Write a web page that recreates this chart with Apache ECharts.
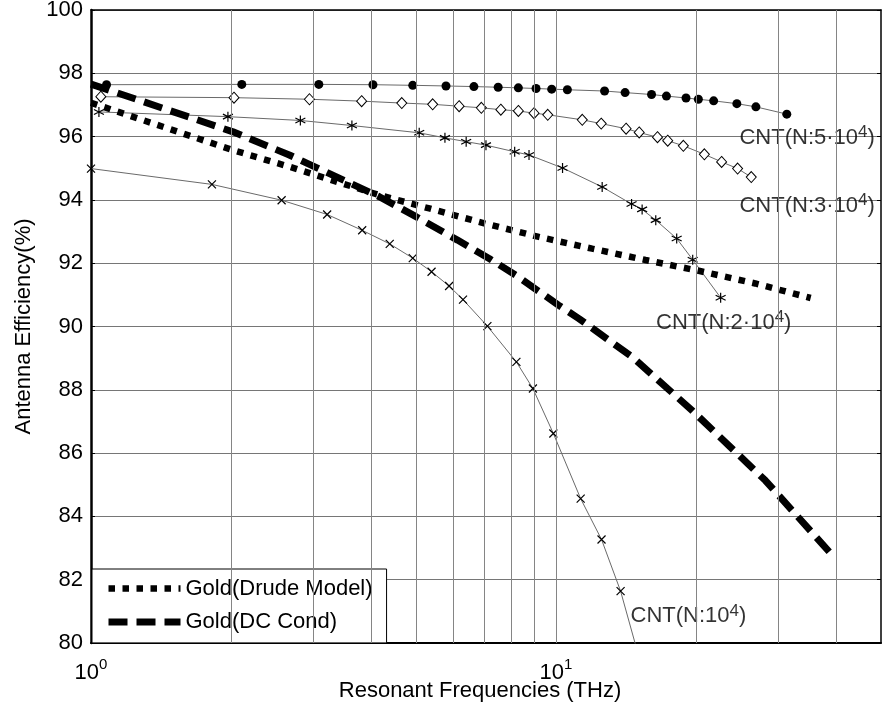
<!DOCTYPE html>
<html>
<head>
<meta charset="utf-8">
<script src="https://cdn.jsdelivr.net/npm/echarts@6/dist/echarts.min.js"></script>
<style>html,body{margin:0;padding:0;background:#fff}#c{width:883px;height:706px}</style>
</head>
<body>
<div id="c"></div>
<script>
// ---------------- data ----------------
// CNT(N:5·10^4)  filled circles
const cnt5F = [1.08, 2.11, 3.09, 4.04, 4.92, 5.80, 6.66, 7.51, 8.30, 9.06, 9.79, 10.58, 12.72, 14.08, 16.05, 17.28, 19.04, 20.24, 21.83, 24.49, 26.91, 31.36];
const cnt5V = [97.64, 97.65, 97.65, 97.64, 97.62, 97.60, 97.58, 97.56, 97.54, 97.52, 97.50, 97.48, 97.44, 97.39, 97.33, 97.28, 97.22, 97.18, 97.13, 97.04, 96.94, 96.71];
// CNT(N:3·10^4)  open diamonds
const cnt3F = [1.05, 2.03, 2.95, 3.82, 4.66, 5.43, 6.19, 6.91, 7.61, 8.30, 8.97, 9.60, 11.39, 12.51, 14.15, 15.10, 16.53, 17.39, 18.79, 20.85, 22.71, 24.58, 26.30];
const cnt3V = [97.26, 97.23, 97.18, 97.12, 97.06, 97.02, 96.96, 96.91, 96.85, 96.81, 96.74, 96.69, 96.53, 96.41, 96.25, 96.13, 95.98, 95.87, 95.71, 95.44, 95.20, 94.99, 94.72];
// CNT(N:2·10^4)  asterisks
const cnt2F = [1.04, 1.97, 2.82, 3.64, 5.08, 5.77, 6.41, 7.07, 8.15, 8.75, 10.33, 12.57, 14.54, 15.32, 16.39, 18.18, 19.68, 22.60];
const cnt2V = [96.78, 96.63, 96.51, 96.35, 96.12, 95.96, 95.84, 95.73, 95.52, 95.42, 95.01, 94.41, 93.87, 93.70, 93.36, 92.78, 92.11, 90.91];
// CNT(N:10^4)  crosses
const cnt1F = [1.00, 1.82, 2.57, 3.22, 3.83, 4.39, 4.92, 5.40, 5.89, 6.31, 7.12, 8.22, 8.92, 9.87, 11.30, 12.53, 13.77, 15.15];
const cnt1V = [94.99, 94.49, 93.99, 93.54, 93.04, 92.61, 92.16, 91.73, 91.28, 90.85, 90.01, 88.88, 88.04, 86.62, 84.56, 83.27, 81.64, 79.45];
// Gold (Drude model)  dotted
const drudeF = [1.00, 2.02, 2.67, 4.17, 5.34, 7.01, 9.19, 11.96, 15.58, 20.27, 26.83, 35.3];
const drudeV = [97.07, 95.57, 95.05, 94.15, 93.73, 93.26, 92.83, 92.46, 92.10, 91.76, 91.36, 90.90];
// Gold (DC conductivity)  dashed
const dcF = [1.00, 2.02, 2.67, 4.17, 5.00, 6.14, 7.18, 8.20, 10.14, 11.20, 14.58, 19.61, 28.18, 38.7];
const dcV = [97.66, 96.15, 95.42, 94.10, 93.47, 92.73, 92.15, 91.62, 90.67, 90.25, 89.04, 87.35, 85.14, 82.88];

const seriesNames = ['CNT(N:5·10^4)', 'CNT(N:3·10^4)', 'CNT(N:2·10^4)', 'CNT(N:10^4)', 'Gold(Drude Model)', 'Gold(DC Cond)'];
const labelBase = ['CNT(N:5·10', 'CNT(N:3·10', 'CNT(N:2·10', 'CNT(N:10'];
const labelExp = ['4', '4', '4', '4'];
const labelTail = [')', ')', ')', ')'];
// annotation anchors (left edge, middle) in data units
const labelAnchorF = [24.8, 24.8, 16.41, 14.46];
const labelAnchorV = [95.95, 93.82, 90.12, 80.84];

const xMin = 1, xMax = 50;
const yMin = 80, yMax = 100, yStep = 2;
const xGridValues = [2, 3, 4, 5, 6, 7, 8, 9, 10, 20, 30, 40];
const xTitle = 'Resonant Frequencies (THz)';
const yTitle = 'Antenna Efficiency(%)';

// ---------------- chart ----------------
const FONT = '"Liberation Sans", Arial, Helvetica, sans-serif';
const pairs = (f, v) => f.map((x, i) => [x, v[i]]);
const thin = { color: '#6a6a6a', width: 1 };
const asteriskPath = 'path://M0,-5L0,5M-4.33,-2.5L4.33,2.5M-4.33,2.5L4.33,-2.5';
const crossPath = 'path://M-4,-4L4,4M-4,4L4,-4';

const chart = echarts.init(document.getElementById('c'), null, { renderer: 'canvas' });

function powLabel(v) {
  const e = Math.log10(v);
  const r = Math.round(e);
  if (Math.abs(e - r) > 1e-6) return '';
  return '{b|10}{s|' + r + '}';
}

const option = {
  animation: false,
  backgroundColor: '#fff',
  textStyle: { fontFamily: FONT, color: '#000' },
  grid: { left: 91, right: 2, top: 10, bottom: 63, containLabel: false, outerBoundsMode: 'none' },
  xAxis: [
    {
      type: 'log', logBase: 10, min: xMin, max: xMax, position: 'bottom',
      axisLine: { show: true, onZero: false, lineStyle: { color: '#000', width: 2 } },
      axisTick: { show: false },
      splitLine: { show: false },
      axisLabel: {
        formatter: powLabel, margin: 14, color: '#000',
        rich: {
          b: { fontSize: 22, fontFamily: FONT, color: '#000' },
          s: { fontSize: 15, fontFamily: FONT, color: '#000', padding: [0, 0, 16, 0] }
        }
      },
      name: xTitle, nameLocation: 'middle', nameGap: 37, nameMoveOverlap: false,
      nameTextStyle: { fontSize: 22, color: '#000', fontFamily: FONT, padding: [0, 12, 0, 0] }
    },
    {
      type: 'log', logBase: 10, min: xMin, max: xMax, position: 'top',
      axisLine: { show: true, onZero: false, lineStyle: { color: '#000', width: 1.5 } },
      axisTick: { show: false }, axisLabel: { show: false }, splitLine: { show: false }
    }
  ],
  yAxis: [
    {
      type: 'value', min: yMin, max: yMax, interval: yStep,
      axisLine: { show: true, onZero: false, lineStyle: { color: '#000', width: 2.5 } },
      axisTick: { show: true, inside: true, length: 4, lineStyle: { color: '#000' } },
      axisLabel: { fontSize: 22, color: '#000', margin: 8, fontFamily: FONT },
      splitLine: { show: true, lineStyle: { color: '#767676', width: 1 } },
      name: yTitle, nameLocation: 'middle', nameGap: 56, nameMoveOverlap: false,
      nameTextStyle: { fontSize: 22, color: '#000', fontFamily: FONT }
    },
    {
      type: 'value', min: yMin, max: yMax, interval: yStep, position: 'right',
      axisLine: { show: true, onZero: false, lineStyle: { color: '#000', width: 1.5 } },
      axisTick: { show: true, inside: true, length: 4, lineStyle: { color: '#000' } },
      axisLabel: { show: false }, splitLine: { show: false }
    }
  ],
  legend: {
    data: [seriesNames[4], seriesNames[5]],
    orient: 'vertical', left: 92, top: 569,
    padding: [7.5, 14, 9, 13], itemGap: 9.4,
    itemWidth: 72, itemHeight: 14,
    backgroundColor: '#fff', borderColor: '#000', borderWidth: 1, borderRadius: 0,
    textStyle: { fontSize: 22, color: '#000', fontFamily: FONT, lineHeight: 24 },
    itemStyle: { opacity: 0 },
    lineStyle: { width: 'inherit' },
    selectedMode: false
  },
  series: [
    {
      name: 'grid', type: 'line', data: [], z: 1, silent: true,
      markLine: {
        silent: true, symbol: 'none', label: { show: false },
        lineStyle: { color: '#858585', width: 1, type: 'solid' },
        data: xGridValues.map(v => ({ xAxis: v }))
      }
    },
    {
      name: seriesNames[0], type: 'line', data: pairs(cnt5F, cnt5V), z: 2,
      symbol: 'circle', symbolSize: 9, itemStyle: { color: '#000' }, lineStyle: thin
    },
    {
      name: seriesNames[1], type: 'line', data: pairs(cnt3F, cnt3V), z: 2,
      symbol: 'diamond', symbolSize: [10, 11],
      itemStyle: { color: '#fff', borderColor: '#000', borderWidth: 1 }, lineStyle: thin
    },
    {
      name: seriesNames[2], type: 'line', data: pairs(cnt2F, cnt2V), z: 2,
      symbol: asteriskPath, symbolSize: 10,
      itemStyle: { color: '#000', borderColor: '#000', borderWidth: 1.2 }, lineStyle: thin
    },
    {
      name: seriesNames[3], type: 'line', data: pairs(cnt1F, cnt1V), z: 2,
      symbol: crossPath, symbolSize: 8,
      itemStyle: { color: '#000', borderColor: '#000', borderWidth: 1.2 }, lineStyle: thin
    },
    {
      name: seriesNames[4], type: 'line', data: pairs(drudeF, drudeV), z: 3,
      symbol: 'none', itemStyle: { color: '#000' },
      lineStyle: { color: '#000', width: 6.5, type: [6.5, 7.5], cap: 'butt' }
    },
    {
      name: seriesNames[5], type: 'line', data: pairs(dcF, dcV), z: 3,
      symbol: 'none', itemStyle: { color: '#000' },
      lineStyle: { color: '#000', width: 7, type: [19, 9], cap: 'butt' }
    },
    {
      name: 'labels', type: 'scatter', z: 4, silent: true,
      data: labelAnchorF.map((f, i) => ({ value: [f, labelAnchorV[i]] })),
      symbolSize: 0.1, itemStyle: { color: 'rgba(0,0,0,0)' },
      label: {
        show: true, position: 'right', distance: 0,
        formatter: p => '{a|' + labelBase[p.dataIndex] + '}{s|' + labelExp[p.dataIndex] + '}{a|' + labelTail[p.dataIndex] + '}',
        rich: {
          a: { fontSize: 22, color: '#000', fontFamily: FONT },
          s: { fontSize: 17, color: '#000', fontFamily: FONT, padding: [0, 0, 11, 0] }
        }
      }
    }
  ]
};
chart.setOption(option);
</script>
</body>
</html>
